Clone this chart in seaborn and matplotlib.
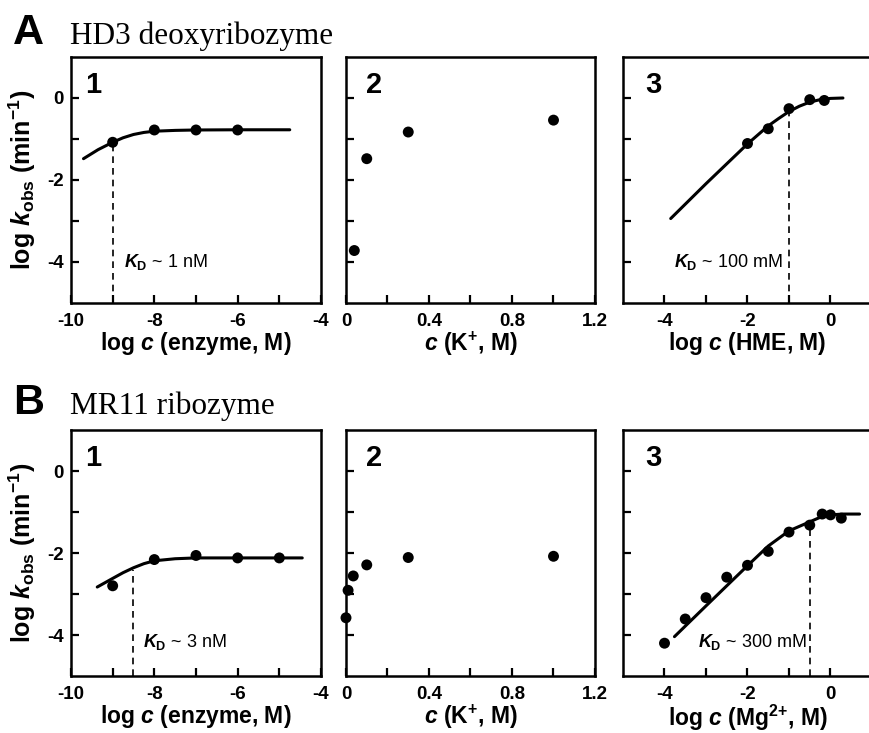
import matplotlib
matplotlib.use('Agg')
import matplotlib.pyplot as plt
import seaborn as sns

# panel A (HD3 deoxyribozyme)
a1_x = [-9, -8, -7, -6]
a1_y = [-1.08, -0.78, -0.78, -0.78]
a1_fit_x = [-9.7, -9.35, -9.0, -8.75, -8.5, -8.25, -8.0, -7.5, -7.0, -6.0, -4.75]
a1_fit_y = [-1.48, -1.26, -1.08, -0.97, -0.89, -0.84, -0.81, -0.79, -0.78, -0.775, -0.775]

a2_x = [0.04, 0.1, 0.3, 1.0]
a2_y = [-3.72, -1.48, -0.83, -0.54]

a3_x = [-2.0, -1.5, -1.0, -0.5, -0.15]
a3_y = [-1.11, -0.75, -0.26, -0.04, -0.06]
a3_fit_x = [-3.85, -3.0, -2.0, -1.5, -1.25, -1.0, -0.75, -0.5, -0.25, 0.0, 0.3]
a3_fit_y = [-2.94, -2.09, -1.12, -0.68, -0.50, -0.33, -0.20, -0.10, -0.04, -0.01, 0.0]

# panel B (MR11 ribozyme)
b1_x = [-9, -8, -7, -6, -5]
b1_y = [-2.80, -2.16, -2.06, -2.12, -2.12]
b1_fit_x = [-9.37, -9.0, -8.75, -8.5, -8.25, -8.0, -7.5, -7.0, -6.0, -4.45]
b1_fit_y = [-2.83, -2.62, -2.48, -2.36, -2.26, -2.19, -2.14, -2.12, -2.12, -2.12]

b2_x = [0.0, 0.01, 0.035, 0.1, 0.3, 1.0]
b2_y = [-3.58, -2.91, -2.56, -2.29, -2.11, -2.08]

b3_x = [-4.0, -3.5, -3.0, -2.5, -2.0, -1.5, -1.0, -0.5, -0.2, 0.0, 0.26]
b3_y = [-4.20, -3.61, -3.09, -2.59, -2.30, -1.96, -1.49, -1.32, -1.05, -1.07, -1.15]
b3_fit_x = [-3.76, -3.0, -2.5, -2.0, -1.5, -1.0, -0.5, -0.25, 0.0, 0.3, 0.7]
b3_fit_y = [-4.04, -3.29, -2.80, -2.31, -1.83, -1.46, -1.24, -1.13, -1.07, -1.05, -1.05]

# K_D markers: x position, top of dashed line, label
kd_a1, kd_a1_top, kd_a1_txt = -9.0, -1.12, '1 nM'
kd_a3, kd_a3_top, kd_a3_txt = -1.0, -0.36, '100 mM'
kd_b1, kd_b1_top, kd_b1_txt = -8.52, -2.42, '3 nM'
kd_b3, kd_b3_top, kd_b3_txt = -0.5, -1.30, '300 mM'

xlab_enz = r'log $\mathbfit{c}$ (enzyme, M)'
xlab_k = r'$\mathbfit{c}$ (K$^{\mathbf{+}}$, M)'
xlab_hme = r'log $\mathbfit{c}$ (HME, M)'
xlab_mg = r'log $\mathbfit{c}$ (Mg$^{\mathbf{2{+}}}$, M)'
ylab = r'log $\mathbfit{k}_{\mathbf{obs}}$ (min$^{\mathbf{-1}}$)'

sns.set_theme(style='ticks')
plt.rcParams['font.family'] = ['Liberation Sans', 'DejaVu Sans']
plt.rcParams['font.weight'] = 'bold'
plt.rcParams['axes.unicode_minus'] = False
plt.rcParams['text.color'] = 'black'
plt.rcParams['axes.labelcolor'] = 'black'
plt.rcParams['xtick.color'] = 'black'
plt.rcParams['ytick.color'] = 'black'
plt.rcParams['mathtext.fontset'] = 'custom'
plt.rcParams['mathtext.rm'] = 'Liberation Sans'
plt.rcParams['mathtext.it'] = 'Liberation Sans:italic'
plt.rcParams['mathtext.bf'] = 'Liberation Sans:bold'
plt.rcParams['mathtext.bfit'] = 'Liberation Sans:italic:bold'

fig = plt.figure(figsize=(8.7, 7.33), dpi=100)
W, H = 870, 733


def make_ax(left, top, w, h):
    return fig.add_axes([left / W, (H - top - h) / H, w / W, h / H])


def style(ax, xlim, xticks, xlabels, xlabel, ylabels):
    ax.set_xlim(*xlim)
    ax.set_ylim(-5, 1)
    ax.set_xticks(xticks)
    ax.set_xticklabels(xlabels)
    ax.set_yticks([-4, -3, -2, -1, 0])
    ax.set_yticklabels(['-4', '', '-2', '', '0'] if ylabels else [])
    ax.tick_params(direction='in', length=6, width=1.6, labelsize=13.5, color='black',
                   labelcolor='black')
    ax.tick_params(axis='x', pad=7)
    ax.tick_params(axis='y', pad=5)
    for s in ax.spines.values():
        s.set_visible(True)
        s.set_linewidth(1.8)
        s.set_color('black')
    ax.set_xlabel(xlabel, fontsize=16.5, fontweight='bold', labelpad=0)
    if ylabels:
        ax.set_ylabel(ylab, fontsize=18, fontweight='bold', labelpad=7)
    else:
        ax.set_ylabel('')


def points(ax, x, y):
    sns.scatterplot(x=x, y=y, ax=ax, color='black', s=62, edgecolor='none', zorder=3,
                    clip_on=False)


def fit(ax, x, y):
    sns.lineplot(x=x, y=y, ax=ax, color='black', lw=2.2, sort=False, estimator=None)


def kd(ax, x, top, txt, tx, ty, ha):
    ax.plot([x, x], [-5, top], color='black', lw=1.2, ls=(0, (4, 3)))
    ax.text(tx, ty, r'$\mathit{K}_{\mathrm{D}}$ ~ ' + txt, fontsize=13, fontweight='normal',
            ha=ha, va='center', color='black')


def number(ax, n, x):
    ax.text(x, 0.853, n, transform=ax.transAxes, fontsize=21, fontweight='bold',
            va='baseline', ha='left', color='black')


enz_ticks = [-10, -9, -8, -7, -6, -5, -4]
enz_labels = ['-10', '', '-8', '', '-6', '', '-4']
k_ticks = [0, 0.2, 0.4, 0.6, 0.8, 1.0, 1.2]
k_labels = ['0', '', '0.4', '', '0.8', '', '1.2']
log_ticks = [-4, -3, -2, -1, 0]
log_labels = ['-4', '', '-2', '', '0']

lefts = [71, 346, 623]
widths = [250, 249, 249]

for row, top in enumerate([57, 430]):
    ax1 = make_ax(lefts[0], top, widths[0], 246)
    ax2 = make_ax(lefts[1], top, widths[1], 246)
    ax3 = make_ax(lefts[2], top, widths[2], 246)
    if row == 0:
        fit(ax1, a1_fit_x, a1_fit_y)
        points(ax1, a1_x, a1_y)
        kd(ax1, kd_a1, kd_a1_top, kd_a1_txt, -8.72, -3.99, 'left')
        points(ax2, a2_x, a2_y)
        fit(ax3, a3_fit_x, a3_fit_y)
        points(ax3, a3_x, a3_y)
        kd(ax3, kd_a3, kd_a3_top, kd_a3_txt, -1.15, -3.99, 'right')
        xl3 = xlab_hme
    else:
        fit(ax1, b1_fit_x, b1_fit_y)
        points(ax1, b1_x, b1_y)
        kd(ax1, kd_b1, kd_b1_top, kd_b1_txt, -8.28, -4.16, 'left')
        points(ax2, b2_x, b2_y)
        fit(ax3, b3_fit_x, b3_fit_y)
        points(ax3, b3_x, b3_y)
        kd(ax3, kd_b3, kd_b3_top, kd_b3_txt, -0.58, -4.16, 'right')
        xl3 = xlab_mg
    style(ax1, (-10, -4), enz_ticks, enz_labels, xlab_enz, True)
    style(ax2, (0, 1.2), k_ticks, k_labels, xlab_k, False)
    style(ax3, (-5, 1), log_ticks, log_labels, xl3, False)
    number(ax1, '1', 0.056)
    number(ax2, '2', 0.08)
    number(ax3, '3', 0.09)

fig.text(13 / W, 1 - 44 / H, 'A', fontsize=31, fontweight='bold', va='baseline')
fig.text(70 / W, 1 - 44 / H, 'HD3 deoxyribozyme', fontsize=22.5, fontweight='normal',
         family='Liberation Serif', va='baseline')
fig.text(13 / W, 1 - 414 / H, 'B', fontsize=31, fontweight='bold', va='baseline')
fig.text(70 / W, 1 - 414 / H, 'MR11 ribozyme', fontsize=22.5, fontweight='normal',
         family='Liberation Serif', va='baseline')

fig.savefig('out.png', dpi=100)
